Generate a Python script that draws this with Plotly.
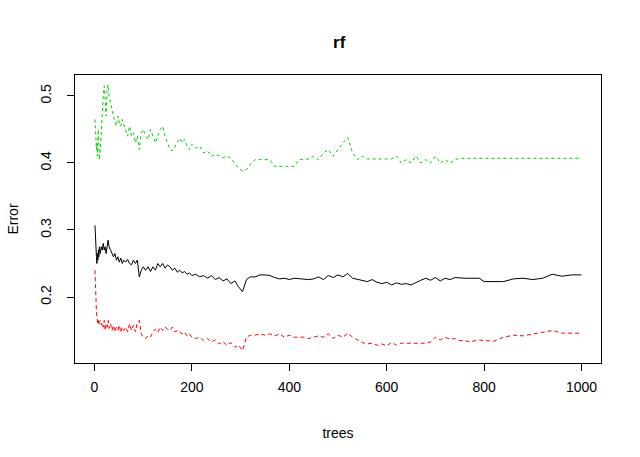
import plotly.graph_objects as go

# number of trees at each reading
trees = [1, 2, 3, 4, 5, 6, 7, 8, 9, 10,
         12, 14, 16, 18, 20, 22, 24, 26, 28, 30,
         33, 36, 39, 42, 45, 48, 51, 54, 57, 60,
         64, 68, 72, 76, 80, 84, 88, 92, 96, 100,
         105, 110, 115, 120, 125, 130, 135, 140, 145, 150,
         155, 160, 165, 170, 175, 180, 185, 190, 195, 200,
         208, 216, 224, 232, 240, 248, 256, 264, 272, 280,
         288, 296, 304, 312, 320, 330, 340, 350, 360, 370,
         380, 390, 400, 410, 420, 430, 440, 450, 460, 470,
         480, 490, 500, 510, 520, 530, 540, 550, 560, 570,
         580, 590, 600, 610, 620, 630, 640, 650, 660, 670,
         680, 690, 700, 710, 720, 730, 740, 750, 760, 770,
         780, 790, 800, 820, 840, 860, 880, 900, 920, 940,
         960, 980, 1000]

# OOB error (black)
oob_err = [0.307, 0.278, 0.27, 0.26, 0.25, 0.265, 0.255, 0.27, 0.26, 0.275,
           0.265, 0.275, 0.27, 0.28, 0.27, 0.275, 0.265, 0.28, 0.285, 0.275,
           0.27, 0.265, 0.26, 0.265, 0.255, 0.26, 0.252, 0.258, 0.25, 0.255,
           0.252, 0.256, 0.25, 0.248, 0.255, 0.25, 0.255, 0.23, 0.24, 0.245,
           0.24, 0.245, 0.238, 0.245, 0.24, 0.25, 0.245, 0.25, 0.243, 0.248,
           0.245, 0.24, 0.243, 0.237, 0.24, 0.236, 0.238, 0.234, 0.236, 0.232,
           0.234, 0.23, 0.232, 0.228, 0.232, 0.226, 0.229, 0.224, 0.227, 0.22,
           0.224, 0.215, 0.208, 0.226, 0.23, 0.23, 0.233, 0.233, 0.232, 0.229,
           0.227, 0.228, 0.226, 0.228, 0.227, 0.227, 0.226, 0.227, 0.23, 0.226,
           0.232, 0.229, 0.233, 0.23, 0.235, 0.228, 0.226, 0.224, 0.223, 0.226,
           0.222, 0.22, 0.222, 0.218, 0.221, 0.219, 0.22, 0.218, 0.222, 0.225,
           0.228, 0.225, 0.229, 0.224, 0.228, 0.226, 0.229, 0.228, 0.228, 0.228,
           0.228, 0.228, 0.223, 0.223, 0.223, 0.227, 0.228, 0.226, 0.228, 0.234,
           0.231, 0.233, 0.233]

# class 1 error (red)
class1_err = [0.24, 0.21, 0.19, 0.178, 0.17, 0.165, 0.16, 0.165, 0.158, 0.162,
              0.165, 0.158, 0.162, 0.155, 0.165, 0.15, 0.16, 0.155, 0.165, 0.153,
              0.16, 0.15, 0.158, 0.148, 0.155, 0.15, 0.158, 0.147, 0.155, 0.15,
              0.155, 0.148, 0.16, 0.15, 0.158, 0.148, 0.162, 0.165, 0.145, 0.14,
              0.138, 0.142, 0.14, 0.148, 0.152, 0.147, 0.155, 0.15, 0.155, 0.152,
              0.15, 0.155, 0.148, 0.15, 0.147, 0.145, 0.148, 0.142, 0.145, 0.14,
              0.138, 0.14, 0.135, 0.138, 0.133, 0.136, 0.13, 0.133, 0.128, 0.132,
              0.125, 0.128, 0.12, 0.14, 0.143, 0.143, 0.145, 0.143, 0.145, 0.142,
              0.145, 0.14, 0.143, 0.14, 0.14, 0.14, 0.138, 0.14, 0.142, 0.14,
              0.145, 0.138, 0.143, 0.14, 0.146, 0.14, 0.136, 0.132, 0.13, 0.131,
              0.128, 0.13, 0.127, 0.132, 0.128, 0.131, 0.131, 0.131, 0.13, 0.131,
              0.131, 0.133, 0.14, 0.136, 0.14, 0.137, 0.138, 0.135, 0.135, 0.133,
              0.135, 0.136, 0.135, 0.134, 0.14, 0.143, 0.142, 0.145, 0.147, 0.15,
              0.146, 0.146, 0.146]

# class 2 error (green)
class2_err = [0.465, 0.44, 0.45, 0.42, 0.43, 0.41, 0.44, 0.45, 0.43, 0.405,
              0.42, 0.45, 0.48, 0.50, 0.515, 0.49, 0.47, 0.51, 0.517, 0.50,
              0.49, 0.48, 0.465, 0.46, 0.455, 0.47, 0.462, 0.455, 0.465, 0.458,
              0.45, 0.44, 0.455, 0.44, 0.445, 0.43, 0.44, 0.42, 0.445, 0.45,
              0.44, 0.435, 0.45, 0.44, 0.43, 0.44, 0.45, 0.455, 0.44, 0.43,
              0.42, 0.418, 0.425, 0.43, 0.437, 0.43, 0.435, 0.425, 0.42, 0.428,
              0.422, 0.425, 0.415, 0.418, 0.41, 0.413, 0.41, 0.408, 0.41, 0.407,
              0.40, 0.392, 0.388, 0.39, 0.398, 0.405, 0.405, 0.405, 0.405, 0.395,
              0.395, 0.395, 0.395, 0.395, 0.405, 0.405, 0.406, 0.41, 0.405, 0.415,
              0.42, 0.41, 0.42, 0.43, 0.438, 0.415, 0.405, 0.41, 0.406, 0.406,
              0.406, 0.406, 0.406, 0.406, 0.41, 0.40, 0.405, 0.40, 0.41, 0.40,
              0.405, 0.40, 0.41, 0.40, 0.405, 0.40, 0.405, 0.407, 0.407, 0.407,
              0.407, 0.407, 0.407, 0.407, 0.407, 0.407, 0.407, 0.407, 0.407, 0.407,
              0.407, 0.407, 0.407]

x_ticks = [0, 200, 400, 600, 800, 1000]
y_ticks = [0.2, 0.3, 0.4, 0.5]

assert len(trees) == len(oob_err) == len(class1_err) == len(class2_err)

fig = go.Figure()
fig.add_trace(go.Scatter(x=trees, y=oob_err, mode='lines',
                         line=dict(color='black', width=1)))
fig.add_trace(go.Scatter(x=trees, y=class1_err, mode='lines',
                         line=dict(color='#FF0000', width=1, dash='4px,3px')))
fig.add_trace(go.Scatter(x=trees, y=class2_err, mode='lines',
                         line=dict(color='#00CD00', width=1, dash='dot')))

axis_style = dict(showline=True, linecolor='black', linewidth=1, mirror=True,
                  showgrid=False, zeroline=False, ticks='outside', ticklen=7,
                  tickcolor='black', automargin=False,
                  tickfont=dict(size=14, color='black'))

fig.update_layout(
    width=640, height=457,
    paper_bgcolor='white', plot_bgcolor='white',
    font=dict(family='Liberation Sans, Arial, sans-serif', color='black'),
    showlegend=False,
    margin=dict(l=75, r=39, t=75, b=94),
    title=dict(text='<b>rf</b>', x=0.53, xanchor='center', y=0.907, yanchor='middle',
               font=dict(size=17, color='black')),
)
fig.update_xaxes(range=[-40, 1040], tickvals=x_ticks, ticklabelstandoff=4,
                 title=dict(text='trees', font=dict(size=14), standoff=34),
                 **axis_style)
fig.update_yaxes(range=[0.1015, 0.5313], tickvals=y_ticks, tickangle=-90,
                 ticklabelstandoff=10,
                 title=dict(text='Error', font=dict(size=14), standoff=16),
                 **axis_style)

# drop the default page margin so the figure sits at the window's corner
fig.write_html("out.html", config={'displayModeBar': False},
               post_script="document.body.style.margin = '0px';")
